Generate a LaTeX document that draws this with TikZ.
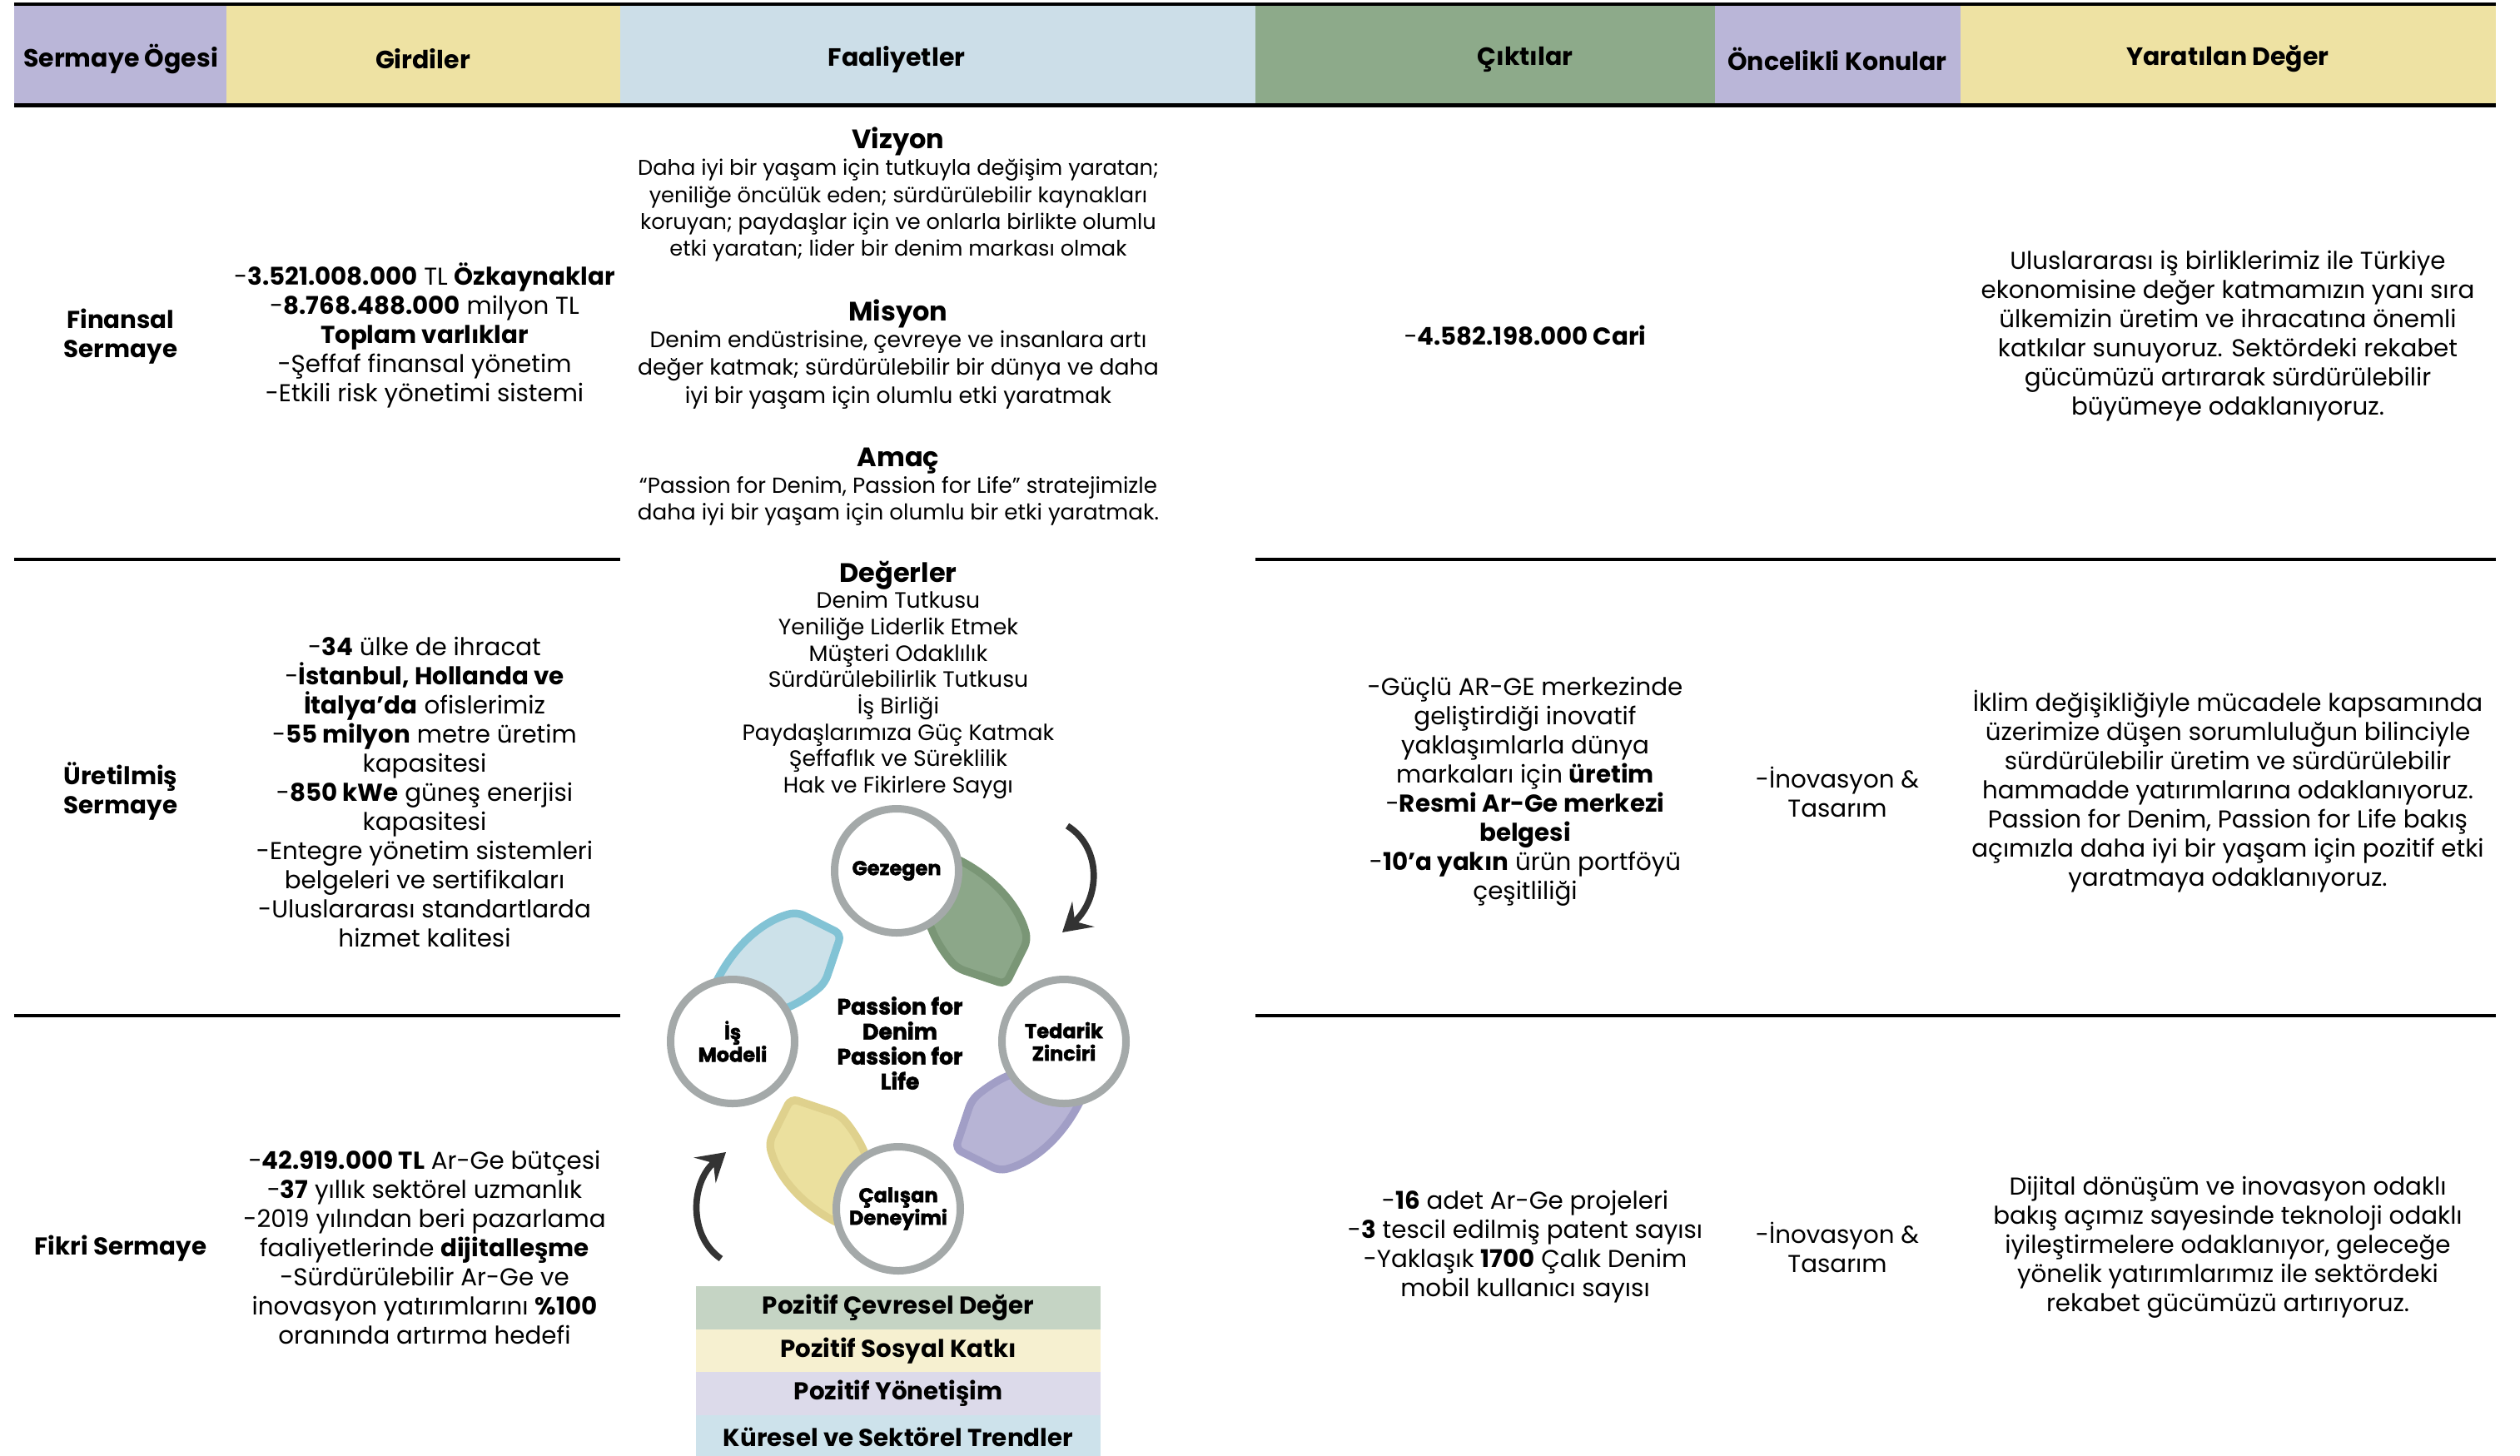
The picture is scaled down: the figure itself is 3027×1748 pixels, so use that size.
\documentclass[tikz,border=0pt]{standalone}
\usepackage{fontspec}
\setmainfont{Poppins}
\newfontfamily\heavy{Poppins}[BoldFeatures={FakeBold=2}]
\usetikzlibrary{arrows.meta}
\definecolor{hpurple}{HTML}{BAB6D8}
\definecolor{hyellow}{HTML}{EEE2A3}
\definecolor{hblue}{HTML}{CCDEE8}
\definecolor{hgreen}{HTML}{8DAA8A}
\definecolor{cgray}{HTML}{A4A9A9}
\definecolor{arrowc}{HTML}{333333}
\definecolor{bxone}{HTML}{C5D4C4}
\definecolor{bxtwo}{HTML}{F6F0D0}
\definecolor{bxthree}{HTML}{DCDAEA}
\definecolor{bxfour}{HTML}{CDE2EB}
\definecolor{gfill}{HTML}{8CA789}
\definecolor{gline}{HTML}{7A9676}
\definecolor{pfill}{HTML}{B7B4D5}
\definecolor{pline}{HTML}{A19EC6}
\definecolor{yfill}{HTML}{EBE09E}
\definecolor{yline}{HTML}{DFD18D}
\definecolor{bfill}{HTML}{CCE1E9}
\definecolor{bline}{HTML}{82C3D5}
\newcommand\fshdr{\fontsize{9pt}{10.8pt}\selectfont}
\newcommand\fsrow{\fontsize{8.8pt}{10.5pt}\selectfont}
\newcommand\fsbody{\fontsize{8.8pt}{10.5pt}\selectfont}
\newcommand\fsact{\fontsize{7.7pt}{9.7pt}\selectfont}
\newcommand\fsmis{\fontsize{8pt}{10.1pt}\selectfont}
\newcommand\fsamac{\fontsize{7.85pt}{9.8pt}\selectfont}
\newcommand\fsval{\fontsize{8pt}{9.5pt}\selectfont}
\newcommand\fstitle{\fontsize{9.6pt}{11pt}\selectfont}
\newcommand\fscyc{\fontsize{7.2pt}{8.1pt}\selectfont}
\newcommand\fsctr{\fontsize{8pt}{9pt}\selectfont}
\newcommand\fsbox{\fontsize{8.8pt}{10pt}\selectfont}
% band: #1 start angle (circle), #2 fill, #3 line
\newcommand\ringband[3]{%
  \draw[fill=#2, draw=#3, line width=2.8pt, rounded corners=2.5pt]
    ({#1-8}:236) .. controls ({#1-28}:236) and ({#1-42}:218) .. ({#1-52}:197)
    -- ({#1-62}:146) -- ({#1-39}:113)
    .. controls ({#1-30}:117) and ({#1-21}:128) .. ({#1-15}:146)
    -- ({#1-8}:160) -- cycle;}
\begin{document}
\begin{tikzpicture}[x=0.3pt, y=-0.3pt,
  every node/.style={inner sep=0pt, outer sep=0pt, text=black},
  hdr/.style={font=\fshdr\bfseries},
  rowlab/.style={font=\fsrow\bfseries, align=center},
  body/.style={font=\fsbody, align=center},
  act/.style={font=\fsact, align=center},
  mis/.style={font=\fsmis, align=center},
  amac/.style={font=\fsamac, align=center},
  vals/.style={font=\fsval, align=center},
  acttitle/.style={font=\fstitle\bfseries},
  cyc/.style={circle, draw=cgray, line width=2.7pt, fill=white, minimum size=44.7pt, font=\fscyc\heavy\bfseries, align=center},
  ctr/.style={font=\fsctr\heavy\bfseries, align=center},
  vbox/.style={minimum width=145.8pt, minimum height=15.6pt, font=\fsbox\bfseries},
  tablerule/.style={line width=1.2pt, draw=black},
  carrow/.style={draw=arrowc, line width=2.3pt, -{Stealth[length=10pt,width=12pt,inset=4pt]}},
]
\useasboundingbox[fill=white] (0,0) rectangle (3027,1748);

% header fills
\fill[hpurple] (17,6) rectangle (272,124);
\fill[hyellow] (272,6) rectangle (745,124);
\fill[hblue] (745,6) rectangle (1508,124);
\fill[hgreen] (1508,6) rectangle (2060,124);
\fill[hpurple] (2060,6) rectangle (2355,124);
\fill[hyellow] (2355,6) rectangle (2998,124);
\coordinate (tl) at (17,5); \coordinate (tr) at (2998,5);
\coordinate (bl) at (17,126); \coordinate (br) at (2998,126);
\draw[tablerule] (tl) -- (tr);
\draw[line width=1.5pt] (bl) -- (br);

% header labels
\node[hdr] (h1) at (145,71) {Sermaye Ögesi};
\node[hdr] (h2) at (508,71) {Girdiler};
\node[hdr] (h3) at (1077,71) {Faaliyetler};
\node[hdr] (h4) at (1832,71) {Çıktılar};
\node[hdr] (h5) at (2207,71) {Öncelikli Konular};
\node[hdr] (h6) at (2676,71) {Yaratılan Değer};

% row rules
\coordinate (r1a) at (17,672); \coordinate (r1b) at (745,672);
\coordinate (r1c) at (1508,672); \coordinate (r1d) at (2998,672);
\coordinate (r2a) at (17,1220); \coordinate (r2b) at (745,1220);
\coordinate (r2c) at (1508,1220); \coordinate (r2d) at (2998,1220);
\draw[tablerule] (r1a) -- (r1b);
\draw[tablerule] (r1c) -- (r1d);
\draw[tablerule] (r2a) -- (r2b);
\draw[tablerule] (r2c) -- (r2d);

% column 1
\node[rowlab] (c1r1) at (145,404) {Finansal\\Sermaye};
\node[rowlab] (c1r2) at (145,950) {Üretilmiş\\Sermaye};
\node[rowlab] (c1r3) at (145,1500) {Fikri Sermaye};

% column 2
\node[body] (c2r1) at (510,403) {-\textbf{3.521.008.000} TL \textbf{Özkaynaklar}\\
-\textbf{8.768.488.000} milyon TL\\
\textbf{Toplam varlıklar}\\
-Şeffaf finansal yönetim\\
-Etkili risk yönetimi sistemi};
\node[body] (c2r2) at (510,951) {-\textbf{34} ülke de ihracat\\
-\textbf{İstanbul, Hollanda ve}\\
\textbf{İtalya'da} ofislerimiz\\
-\textbf{55 milyon} metre üretim\\
kapasitesi\\
-\textbf{850 kWe} güneş enerjisi\\
kapasitesi\\
-Entegre yönetim sistemleri\\
belgeleri ve sertifikaları\\
-Uluslararası standartlarda\\
hizmet kalitesi};
\node[body] (c2r3) at (510,1498) {-\textbf{42.919.000 TL} Ar-Ge bütçesi\\
-\textbf{37} yıllık sektörel uzmanlık\\
-2019 yılından beri pazarlama\\
faaliyetlerinde \textbf{dijitalleşme}\\
-Sürdürülebilir Ar-Ge ve\\
inovasyon yatırımlarını \textbf{\%100}\\
oranında artırma hedefi};

% Faaliyetler
\node[acttitle] (vt) at (1079,170) {Vizyon};
\node[act] (vb) at (1079,253) {Daha iyi bir yaşam için tutkuyla değişim yaratan;\\
yeniliğe öncülük eden; sürdürülebilir kaynakları\\
koruyan; paydaşlar için ve onlarla birlikte olumlu\\
etki yaratan; lider bir denim markası olmak};
\node[acttitle] (mt) at (1079,377) {Misyon};
\node[mis] (mb) at (1079,444) {Denim endüstrisine, çevreye ve insanlara artı\\
değer katmak; sürdürülebilir bir dünya ve daha\\
iyi bir yaşam için olumlu etki yaratmak};
\node[acttitle] (at) at (1079,554) {Amaç};
\node[amac] (ab) at (1079,602) {“Passion for Denim, Passion for Life” stratejimizle\\
daha iyi bir yaşam için olumlu bir etki yaratmak.};
\node[acttitle] (dt) at (1079,691) {Değerler};
\node[vals] (db) at (1079,835) {Denim Tutkusu\\
Yeniliğe Liderlik Etmek\\
Müşteri Odaklılık\\
Sürdürülebilirlik Tutkusu\\
İş Birliği\\
Paydaşlarımıza Güç Katmak\\
Şeffaflık ve Süreklilik\\
Hak ve Fikirlere Saygı};

% cycle bands
\begin{scope}[shift={(1079,1251)}, yscale=-1]
\ringband{90}{gfill}{gline}
\ringband{0}{pfill}{pline}
\ringband{270}{yfill}{yline}
\ringband{180}{bfill}{bline}
\end{scope}

% cycle circles
\node[cyc] (gez) at (1077,1046) {Gezegen};
\node[cyc] (ism) at (880,1251) {İş\\Modeli};
\node[cyc] (ted) at (1278,1251) {Tedarik\\Zinciri};
\node[cyc] (cal) at (1079,1452) {Çalışan\\Deneyimi};
\node[ctr] (pfd) at (1081,1253) {Passion for\\Denim\\Passion for\\Life};

% curved arrows
\coordinate (a1s) at (1282,992);
\coordinate (a1e) at (1276,1120);
\draw[carrow] (a1s) .. controls (1324,1018) and (1322,1080) .. (a1e);
\coordinate (a2s) at (866,1512);
\coordinate (a2e) at (872,1384);
\draw[carrow] (a2s) .. controls (826,1484) and (830,1420) .. (a2e);

% bottom boxes
\node[vbox, fill=bxone] (bx1) at (1079,1571) {Pozitif Çevresel Değer};
\node[vbox, fill=bxtwo] (bx2) at (1079,1622.5) {Pozitif Sosyal Katkı};
\node[vbox, fill=bxthree] (bx3) at (1079,1674) {Pozitif Yönetişim};
\node[vbox, fill=bxfour] (bx4) at (1079,1726) {Küresel ve Sektörel Trendler};

% Çıktılar
\node[body] (c4r1) at (1832,403) {-\textbf{4.582.198.000 Cari}};
\node[body] (c4r2) at (1832,951) {-Güçlü AR-GE merkezinde\\
geliştirdiği inovatif\\
yaklaşımlarla dünya\\
markaları için \textbf{üretim}\\
-\textbf{Resmi Ar-Ge merkezi}\\
\textbf{belgesi}\\
-\textbf{10'a yakın} ürün portföyü\\
çeşitliliği};
\node[body] (c4r3) at (1832,1498) {-\textbf{16} adet Ar-Ge projeleri\\
-\textbf{3} tescil edilmiş patent sayısı\\
-Yaklaşık \textbf{1700} Çalık Denim\\
mobil kullanıcı sayısı};

% Öncelikli
\node[body] (c5r2) at (2207,951) {-İnovasyon \&\\Tasarım};
\node[body] (c5r3) at (2207,1498) {-İnovasyon \&\\Tasarım};

% Yaratılan
\node[body] (c6r1) at (2676,404) {Uluslararası iş birliklerimiz ile Türkiye\\
ekonomisine değer katmamızın yanı sıra\\
ülkemizin üretim ve ihracatına önemli\\
katkılar sunuyoruz. Sektördeki rekabet\\
gücümüzü artırarak sürdürülebilir\\
büyümeye odaklanıyoruz.};
\node[body] (c6r2) at (2676,951) {İklim değişikliğiyle mücadele kapsamında\\
üzerimize düşen sorumluluğun bilinciyle\\
sürdürülebilir üretim ve sürdürülebilir\\
hammadde yatırımlarına odaklanıyoruz.\\
Passion for Denim, Passion for Life bakış\\
açımızla daha iyi bir yaşam için pozitif etki\\
yaratmaya odaklanıyoruz.};
\node[body] (c6r3) at (2676,1498) {Dijital dönüşüm ve inovasyon odaklı\\
bakış açımız sayesinde teknoloji odaklı\\
iyileştirmelere odaklanıyor, geleceğe\\
yönelik yatırımlarımız ile sektördeki\\
rekabet gücümüzü artırıyoruz.};
\end{tikzpicture}
\end{document}
